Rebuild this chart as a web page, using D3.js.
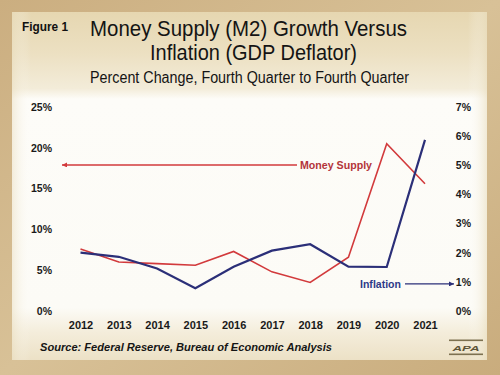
<!DOCTYPE html>
<html><head><meta charset="utf-8">
<script src="https://cdn.jsdelivr.net/npm/d3@7"></script>
<style>
html,body{margin:0;padding:0;background:#cfb486;}
svg{display:block;}
text{font-family:"Liberation Sans",Arial,sans-serif;}
</style></head>
<body>
<svg id="chart" width="500" height="375"></svg>
<script>
const years = [2012,2013,2014,2015,2016,2017,2018,2019,2020,2021];
const moneySupply = [7.6,6.0,5.8,5.6,7.3,4.8,3.5,6.6,20.5,15.6];
const inflation = [2.0,1.86,1.46,0.78,1.52,2.07,2.29,1.52,1.51,5.87];
const leftTicks = [0,5,10,15,20,25];
const rightTicks = [0,1,2,3,4,5,6,7];

const svg = d3.select("#chart");
const defs = svg.append("defs");

// outer texture gradient
const og = defs.append("linearGradient").attr("id","outer").attr("x1",0).attr("y1",0).attr("x2",1).attr("y2",1);
og.append("stop").attr("offset","0").attr("stop-color","#cbae80");
og.append("stop").attr("offset","0.5").attr("stop-color","#d8c197");
og.append("stop").attr("offset","1").attr("stop-color","#c9ac7d");
svg.append("rect").attr("width",500).attr("height",375).attr("fill","url(#outer)");

// inner panel gradient
const ig = defs.append("linearGradient").attr("id","inner").attr("x1",0).attr("y1",0).attr("x2",0).attr("y2",1);
[["0","#e6d7b1"],["0.12","#ece0c2"],["0.22","#f3ecd9"],["0.25","#fdfcf8"],["0.85","#fcfbf6"],["0.92","#f4eddb"],["1","#ece1c6"]]
  .forEach(s=>ig.append("stop").attr("offset",s[0]).attr("stop-color",s[1]));
svg.append("rect").attr("x",12).attr("y",12).attr("width",475).attr("height",348).attr("fill","url(#inner)");
// side vignette
const hg = defs.append("linearGradient").attr("id","side").attr("x1",0).attr("y1",0).attr("x2",1).attr("y2",0);
[["0","#e9ddbd",0.5],["0.04","#ffffff",0],["0.96","#ffffff",0],["1","#e9ddbd",0.6]]
  .forEach(s=>hg.append("stop").attr("offset",s[0]).attr("stop-color",s[1]).attr("stop-opacity",s[2]));
svg.append("rect").attr("x",12).attr("y",12).attr("width",475).attr("height",348).attr("fill","url(#side)");

// Titles
svg.append("text").attr("x",22).attr("y",31).attr("font-size",12).attr("font-weight","bold")
  .attr("fill","#111").attr("textLength",46).attr("lengthAdjust","spacingAndGlyphs").text("Figure 1");
svg.append("text").attr("x",248.5).attr("y",35.5).attr("text-anchor","middle").attr("font-size",22.5)
  .attr("fill","#141414").attr("textLength",317).attr("lengthAdjust","spacingAndGlyphs").text("Money Supply (M2) Growth Versus");
svg.append("text").attr("x",253.5).attr("y",59.5).attr("text-anchor","middle").attr("font-size",22.5)
  .attr("fill","#141414").attr("textLength",207).attr("lengthAdjust","spacingAndGlyphs").text("Inflation (GDP Deflator)");
svg.append("text").attr("x",249.5).attr("y",82.5).attr("text-anchor","middle").attr("font-size",16)
  .attr("fill","#141414").attr("textLength",319).attr("lengthAdjust","spacingAndGlyphs").text("Percent Change, Fourth Quarter to Fourth Quarter");

// Scales
const x = d3.scalePoint().domain(years).range([80.5,425]);
const yL = d3.scaleLinear().domain([0,25]).range([311,107]);
const yR = d3.scaleLinear().domain([0,7]).range([311,107]);

const styleAxis = g => {
  g.select(".domain").remove();
  g.selectAll("text").attr("font-weight","bold").attr("fill","#1a1a1a")
    .attr("font-family","\"Liberation Sans\",Arial,sans-serif");
};

svg.append("g").attr("transform","translate(52,0)")
  .call(d3.axisLeft(yL).tickValues(leftTicks).tickSize(0).tickPadding(0).tickFormat(d=>d+"%"))
  .attr("font-size",10.5).call(styleAxis);
svg.append("g").attr("transform","translate(471,0)")
  .call(d3.axisLeft(yR).tickValues(rightTicks).tickSize(0).tickPadding(0).tickFormat(d=>d+"%"))
  .attr("font-size",10.5).call(styleAxis);
svg.append("g").attr("transform","translate(0,321)")
  .call(d3.axisBottom(x).tickSize(0).tickPadding(0).tickFormat(d=>String(d)))
  .attr("font-size",11).call(styleAxis);

// Lines
const red = "#d23a3c", blue = "#2b2f78";
const lineL = d3.line().x((d,i)=>x(years[i])).y(d=>yL(d));
const lineR = d3.line().x((d,i)=>x(years[i])).y(d=>yR(d));
svg.append("path").datum(moneySupply).attr("d",lineL).attr("fill","none").attr("stroke",red).attr("stroke-width",1.6).attr("stroke-linejoin","miter");
svg.append("path").datum(inflation).attr("d",lineR).attr("fill","none").attr("stroke",blue).attr("stroke-width",2.2).attr("stroke-linejoin","miter");

// Arrow markers
function marker(id,color){
  defs.append("marker").attr("id",id).attr("viewBox","0 0 10 10").attr("refX",10).attr("refY",5)
    .attr("markerWidth",6).attr("markerHeight",5).attr("markerUnits","userSpaceOnUse").attr("orient","auto")
    .append("path").attr("d","M0,0 L10,5 L0,10 Z").attr("fill",color);
}
marker("arrR",red); marker("arrB",blue);

// Money Supply annotation
const msY = yL(17.9);
svg.append("line").attr("x1",297).attr("x2",62).attr("y1",msY).attr("y2",msY)
  .attr("stroke",red).attr("stroke-width",1.6).attr("marker-end","url(#arrR)");
svg.append("text").attr("x",300).attr("y",msY+4).attr("font-size",11).attr("font-weight","bold")
  .attr("fill","#b3343a").attr("textLength",72).attr("lengthAdjust","spacingAndGlyphs").text("Money Supply");

// Inflation annotation
const inY = yR(0.93);
svg.append("text").attr("x",360).attr("y",inY+4).attr("font-size",11).attr("font-weight","bold")
  .attr("fill","#2e3a88").attr("textLength",41).attr("lengthAdjust","spacingAndGlyphs").text("Inflation");
svg.append("line").attr("x1",405).attr("x2",454).attr("y1",inY).attr("y2",inY)
  .attr("stroke",blue).attr("stroke-width",1.4).attr("marker-end","url(#arrB)");

// Source
svg.append("text").attr("x",40).attr("y",351).attr("font-size",11).attr("font-weight","bold").attr("font-style","italic")
  .attr("fill","#151515").attr("textLength",292).attr("lengthAdjust","spacingAndGlyphs")
  .text("Source: Federal Reserve, Bureau of Economic Analysis");

// APA logo
svg.append("rect").attr("x",449).attr("y",339.5).attr("width",34).attr("height",1.6).attr("fill","#7d7150");
svg.append("rect").attr("x",449).attr("y",353.5).attr("width",34).attr("height",1.6).attr("fill","#7d7150");
svg.append("text").attr("x",466).attr("y",350.5).attr("text-anchor","middle").attr("font-size",8)
  .attr("font-weight","bold").attr("font-style","italic").attr("fill","#5e5538")
  .attr("textLength",27).attr("lengthAdjust","spacingAndGlyphs").text("APA");
</script>
</body></html>
